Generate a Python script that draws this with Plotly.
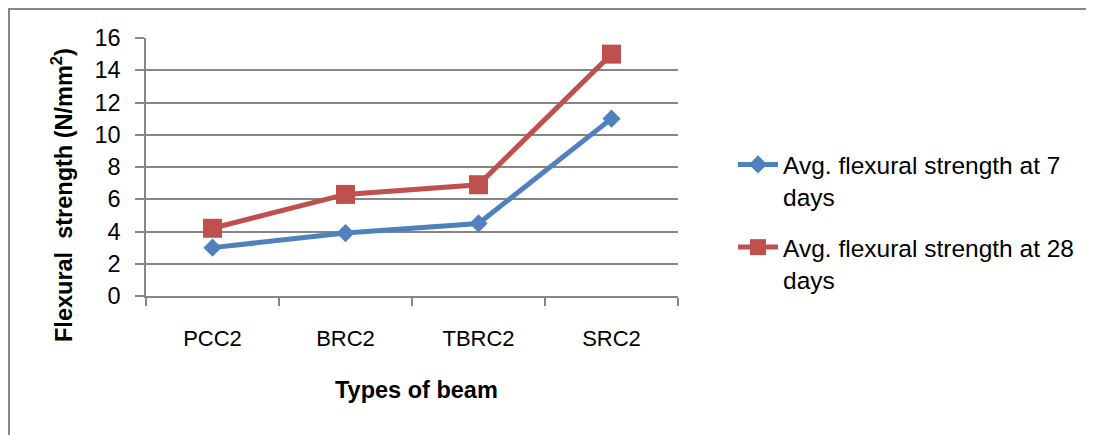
import plotly.graph_objects as go

categories = ["PCC2", "BRC2", "TBRC2", "SRC2"]
strength_7 = [3.0, 3.9, 4.5, 11.0]
strength_28 = [4.2, 6.3, 6.9, 15.0]
series_names = ["Avg. flexural strength at 7<br>days", "Avg. flexural strength at 28<br>days"]
y_ticks = [0, 2, 4, 6, 8, 10, 12, 14, 16]

FONT = "Liberation Sans, Arial, sans-serif"
GRID = "#868686"

fig = go.Figure()
fig.add_trace(go.Scatter(
    x=categories, y=strength_7, name=series_names[0], mode="lines+markers",
    legendgroup="g7",
    line=dict(color="#4F81BD", width=5),
    marker=dict(symbol="diamond", size=14, color="#4F81BD"),
))
fig.add_trace(go.Scatter(
    x=categories, y=strength_28, name=series_names[1], mode="lines+markers",
    legendgroup="g28",
    line=dict(color="#C0504D", width=5),
    marker=dict(symbol="square", size=19, color="#C0504D"),
))

OFF = 8  # page body margin
WW, WH = 1094, 435
W, H = WW - OFF, WH - OFF
# plot area in window pixels
L, R, T, B = 146, 678, 38, 296


def px(xw):
    return (xw - L) / (R - L)


def py(yw):
    return (B - yw) / (B - T)


fig.update_layout(
    width=W, height=H, autosize=False,
    margin=dict(l=L - OFF, r=WW - R, t=T - OFF, b=WH - B, pad=0),
    paper_bgcolor="white", plot_bgcolor="white",
    font=dict(family=FONT, size=24, color="black"),
    showlegend=True,
    legend=dict(
        x=px(733), xanchor="left",
        y=py(142), yanchor="top",
        valign="top", font=dict(size=24.5), itemwidth=40,
        tracegroupgap=16, bgcolor="rgba(0,0,0,0)",
    ),
    xaxis=dict(
        type="category", showgrid=False, showline=True, linecolor=GRID, linewidth=1.5,
        ticks="outside", ticklen=8, tickcolor=GRID, tickwidth=1.5, tickson="boundaries",
        ticklabelstandoff=22, range=[-0.5, 3.5], zeroline=False,
        tickfont=dict(size=22),
    ),
    yaxis=dict(
        range=[0, 16], tickvals=y_ticks, showgrid=True, gridcolor=GRID, gridwidth=1.5,
        showline=True, linecolor=GRID, linewidth=1.5, ticks="outside", ticklen=9,
        tickcolor=GRID, tickwidth=1.5, ticklabelstandoff=10, zeroline=False,
        tickfont=dict(size=23.5),
    ),
    annotations=[
        dict(text="<b>Flexural  strength (N/mm<sup>2</sup>)</b>", textangle=-90,
             xref="paper", yref="paper", x=px(62), y=py(195),
             xanchor="center", yanchor="middle", showarrow=False, font=dict(size=23.5)),
        dict(text="<b>Types of beam</b>", xref="paper", yref="paper",
             x=px(416), y=py(390),
             xanchor="center", yanchor="middle", showarrow=False, font=dict(size=23.5)),
    ],
    shapes=[
        dict(type="rect", xref="paper", yref="paper",
             x0=px(OFF + 1), x1=px(1300),
             y0=py(700), y1=py(OFF + 1),
             line=dict(color=GRID, width=2), fillcolor="rgba(0,0,0,0)", layer="below"),
    ],
)

fig.write_html("out.html")
